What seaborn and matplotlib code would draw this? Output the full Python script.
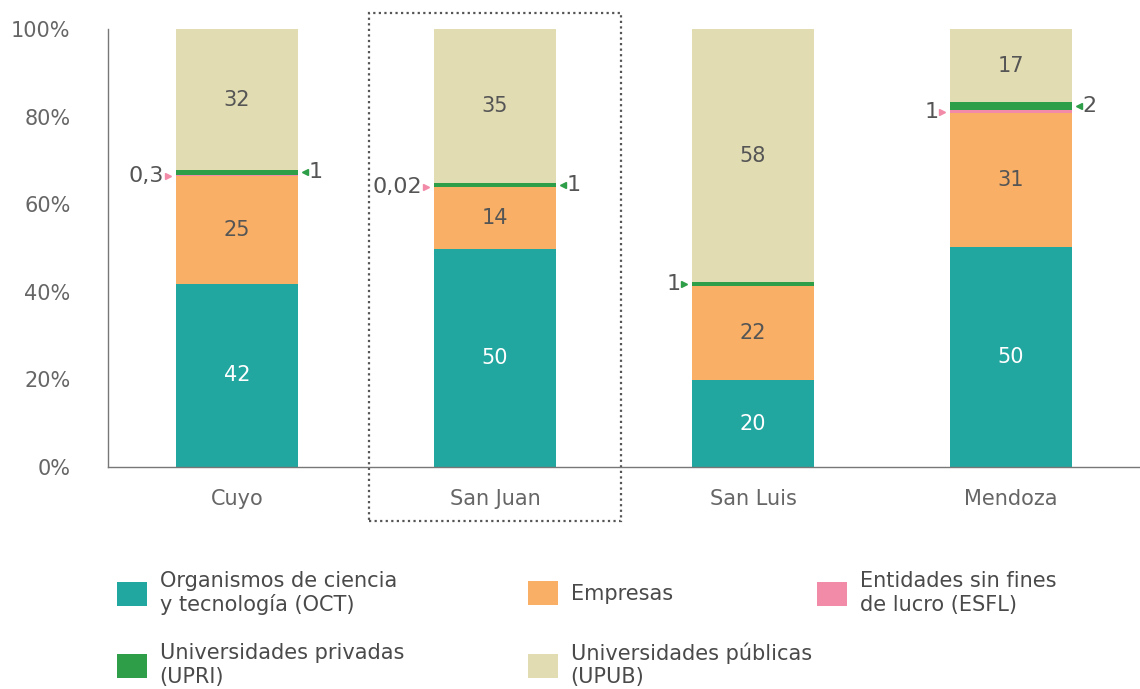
import numpy as np
import pandas as pd
import seaborn as sns
import matplotlib.pyplot as plt
from matplotlib.patches import Rectangle, Patch
from matplotlib.transforms import blended_transform_factory

# data (percent of total)
regions = ["Cuyo", "San Juan", "San Luis", "Mendoza"]
oct_vals = [41.8, 49.8, 19.8, 50.2]
emp_vals = [24.6, 14.1, 21.6, 30.6]
esfl_vals = [0.3, 0.02, 0.0, 0.6]
upri_vals = [1.1, 0.9, 0.8, 1.9]
upub_vals = [32.2, 35.18, 57.8, 16.7]

cols = ["OCT", "EMP", "ESFL", "UPRI", "UPUB"]
names = ["Organismos de ciencia\ny tecnología (OCT)", "Empresas",
         "Entidades sin fines\nde lucro (ESFL)", "Universidades privadas\n(UPRI)",
         "Universidades públicas\n(UPUB)"]
colors = ["#22a6a0", "#f9b066", "#f28ba8", "#2e9e48", "#e2dcb2"]

sns.set_style("white")
plt.rcParams["font.family"] = ["DejaVu Sans"]

df = pd.DataFrame({"region": regions, "OCT": oct_vals, "EMP": emp_vals,
                   "ESFL": esfl_vals, "UPRI": upri_vals, "UPUB": upub_vals})
cum = df[cols].cumsum(axis=1)
cum["region"] = df["region"]

fig = plt.figure(figsize=(11.4, 6.89), dpi=100)
ax = fig.add_axes([108 / 1140, 1 - 467 / 689, 1 - 108 / 1140, (467 - 29) / 689])

bw = 0.47
# stacked bars: draw cumulative totals from the top layer down
for col, c in zip(reversed(cols), reversed(colors)):
    sns.barplot(data=cum, x="region", y=col, color=c, saturation=1, width=bw,
                errorbar=None, linewidth=0, ax=ax)

txt_dark = "#555555"
fs = 15


def fmt(v):
    if v >= 0.5:
        return str(int(round(v)))
    return f"{v:g}".replace(".", ",")


for i in range(len(regions)):
    row = df.iloc[i]
    c = cum.iloc[i]
    for col, tc in [("OCT", "white"), ("EMP", txt_dark), ("UPUB", txt_dark)]:
        mid = c[col] - row[col] / 2
        ax.text(i, mid, fmt(row[col]), ha="center", va="center", color=tc,
                fontsize=fs)
    left = i - bw / 2
    right = i + bw / 2
    small = []
    if row["ESFL"] > 0:
        small.append(("ESFL", "left", colors[2]))
        small.append(("UPRI", "right", colors[3]))
    else:
        small.append(("UPRI", "left", colors[3]))
    for col, side, mc in small:
        mid = c[col] - row[col] / 2
        if side == "left":
            ax.plot(left - 0.031, mid, marker=">", ms=4, color=mc, clip_on=False)
            ax.text(left - 0.047, mid, fmt(row[col]), ha="right", va="center",
                    color=txt_dark, fontsize=16)
        else:
            ax.plot(right + 0.027, mid, marker="<", ms=4, color=mc, clip_on=False)
            ax.text(right + 0.043, mid, fmt(row[col]), ha="left", va="center",
                    color=txt_dark, fontsize=16)

ax.set_xlim(-0.5, len(regions) - 0.5)
ax.set_ylim(0, 100)
ax.set_yticks(np.arange(0, 101, 20))
ax.set_yticklabels([f"{t}%" for t in range(0, 101, 20)])
ax.set_xlabel("")
ax.set_ylabel("")
ax.set_xticks(np.arange(-0.5, len(regions) - 0.5, 1), minor=True)
ax.tick_params(axis="x", which="major", length=0, pad=16, labelsize=fs, labelcolor="#666666")
ax.tick_params(axis="x", which="minor", length=7, width=1, color="#777777", direction="out")
ax.tick_params(axis="y", length=7, width=1, color="#777777", direction="out",
               labelsize=fs, labelcolor="#666666", pad=20)
for s in ["top", "right"]:
    ax.spines[s].set_visible(False)
for s in ["left", "bottom"]:
    ax.spines[s].set_color("#777777")
    ax.spines[s].set_linewidth(1)

# dotted highlight around San Juan
tr = blended_transform_factory(ax.transData, ax.transAxes)
ax.add_patch(Rectangle((1 - 0.49, -0.123), 0.98, 1.16, transform=tr, fill=False,
                       linestyle=(0, (1, 1.5)), linewidth=1.6, edgecolor="#555555",
                       clip_on=False))

# legend entries placed like the original layout
legend_pos = [(117, 593), (528, 593), (817, 593), (117, 665), (528, 665)]
for name, c, (px, py) in zip(names, colors, legend_pos):
    fig.legend(handles=[Patch(facecolor=c, edgecolor="none", label=name)],
               loc="center left", bbox_to_anchor=(px / 1140, 1 - py / 689),
               frameon=False, fontsize=fs, labelcolor="#4a4a4a",
               handlelength=1.45, handleheight=1.45, handletextpad=0.6,
               borderpad=0, borderaxespad=0)

fig.savefig("out.png", dpi=100)
